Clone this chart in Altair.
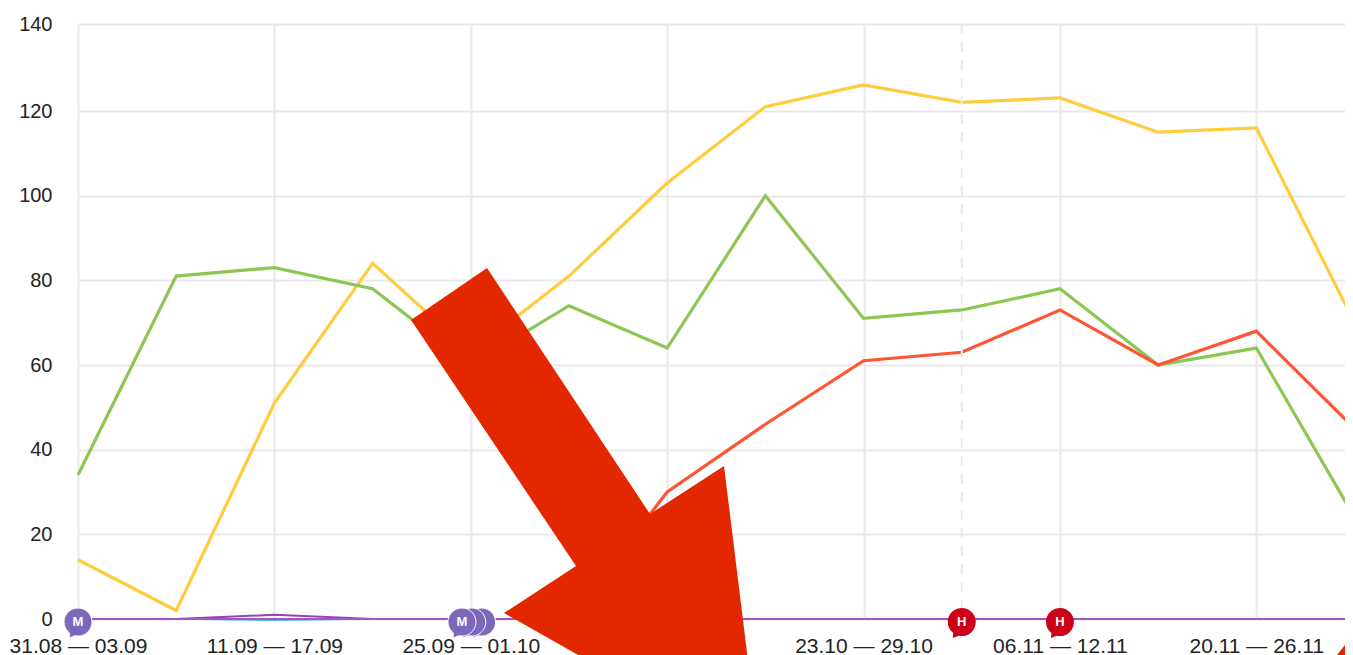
import json
import altair as alt
import pandas as pd

weeks = ["31.08 — 03.09", "04.09 — 10.09", "11.09 — 17.09", "18.09 — 24.09", "25.09 — 01.10",
         "02.10 — 08.10", "09.10 — 15.10", "16.10 — 22.10", "23.10 — 29.10", "30.10 — 05.11",
         "06.11 — 12.11", "13.11 — 19.11", "20.11 — 26.11", "27.11 — 03.12"]
yellow = [14, 2, 51, 84, 63, 81, 103, 121, 126, 122, 123, 115, 116, 70]
green = [34, 81, 83, 78, 60, 74, 64, 100, 71, 73, 78, 60, 64, 24]
red = [None, None, None, None, None, 0, 30, 46, 61, 63, 73, 60, 68, 45]
blue = [0, 0, -0.3, 0, 0, 0, 0, 0, 0, 0, 0, 0, 0, 0]
violet = [0, 0, 1, 0, 0, 0, 0, 0, 0, 0, 0, 0, 0, 0]
purple = [0] * 14
series = [(yellow, "#FFCC3D", 3.2), (green, "#8CC653", 3.2), (red, "#FF5535", 3.2),
          (blue, "#4FB4E8", 1.5), (violet, "#9A3FB5", 2), (purple, "#A653C8", 2)]

marker_pos = [0, 4.11, 4.01, 3.91, 9, 10]
marker_kind = ["M", "M", "M", "M", "H", "H"]
marker_text = ["M", "", "", "M", "H", "H"]
marker_colors = {"M": "#7B68BD", "H": "#CC0019"}
marker_outline = {"M": 1, "H": 0}

y_ticks = [0, 20, 40, 60, 80, 100, 120, 140]
x_ticks = [0, 2, 4, 6, 8, 10, 12]
dashed_at = [9]

ARROW_COLOR = "#E32800"
LEFT, TOP = 78, 24
big_arrow = [(487, 268), (411, 320), (576, 566), (504, 613), (760, 758), (724, 466), (650, 514)]
corner_arrow = [(1337, 655), (1353, 635), (1353, 655)]


def path(points):
    return "M" + " L".join(f"{x - LEFT},{y - TOP}" for x, y in points) + " Z"


GRID = "#E9E9E9"
FONT = "Liberation Sans"
x_scale = alt.Scale(domain=[0, 12.903], nice=False, zero=False)
y_scale = alt.Scale(domain=[0, 120, 140], range=[595, 87, 0], nice=False)

x_axis = alt.Axis(values=x_ticks, labelExpr=f"{json.dumps(weeks, ensure_ascii=False)}[datum.value]",
                  grid=True, gridColor=GRID, gridWidth=2, domain=False, ticks=False, title=None,
                  labelFont=FONT, labelFontSize=21, labelColor="#222222", labelPadding=16,
                  labelOverlap=False, labelFlush=False, labelBound=False)
y_axis = alt.Axis(values=y_ticks, grid=True, gridColor=GRID, gridWidth=2, domain=False, ticks=False,
                  title=None, labelFont=FONT, labelFontSize=20, labelColor="#222222", labelPadding=26)
X = alt.X("i:Q", scale=x_scale, axis=x_axis)
Y = alt.Y("v:Q", scale=y_scale, axis=y_axis)

layers = []
for vals, color, width in series:
    df = pd.DataFrame({"i": list(range(len(weeks))), "v": vals}).dropna()
    layers.append(alt.Chart(df).mark_line(color=color, strokeWidth=width).encode(x=X, y=Y))

dash = alt.Chart(pd.DataFrame({"i": dashed_at})).mark_rule(color=GRID, strokeWidth=2, strokeDash=[10, 8]).encode(x=X)

markers_df = pd.DataFrame({"i": marker_pos, "v": [0] * 6, "k": marker_kind, "t": marker_text})
bubble = "M-14,3 A14,14 0 1 1 -3,16.7 L-9,19 L-8.5,14 A14,14 0 0 1 -14,3 Z"
marker_layers = []
for row in markers_df.itertuples():
    one = pd.DataFrame({"i": [row.i], "v": [row.v]})
    marker_layers.append(alt.Chart(one).mark_point(
        shape=bubble, size=4, filled=True, opacity=1, fill=marker_colors[row.k],
        stroke="#FFFFFF", strokeWidth=marker_outline[row.k]).encode(x=X, y=Y))
letters = alt.Chart(markers_df[markers_df.t != ""]).mark_text(
    font=FONT, fontWeight="bold", fontSize=13, color="#FFFFFF", baseline="middle", align="center", dy=3).encode(
    x=X, y=Y, text="t:N")

anchor = pd.DataFrame({"a": [0]})
arrows = [alt.Chart(anchor).mark_point(shape=path(p), size=4, filled=True, opacity=1, fill=ARROW_COLOR,
                                       strokeWidth=0).encode(x=alt.value(0), y=alt.value(0))
          for p in (big_arrow, corner_arrow)]

chart = alt.layer(*layers, dash, *marker_layers, letters, *arrows).properties(
    width=1267, height=595, autosize="none", background="white",
    padding={"left": 70, "top": 16, "right": 0, "bottom": 36},
).configure_view(stroke=None)

chart.save("out.html", embed_options={"renderer": "svg", "actions": False})
